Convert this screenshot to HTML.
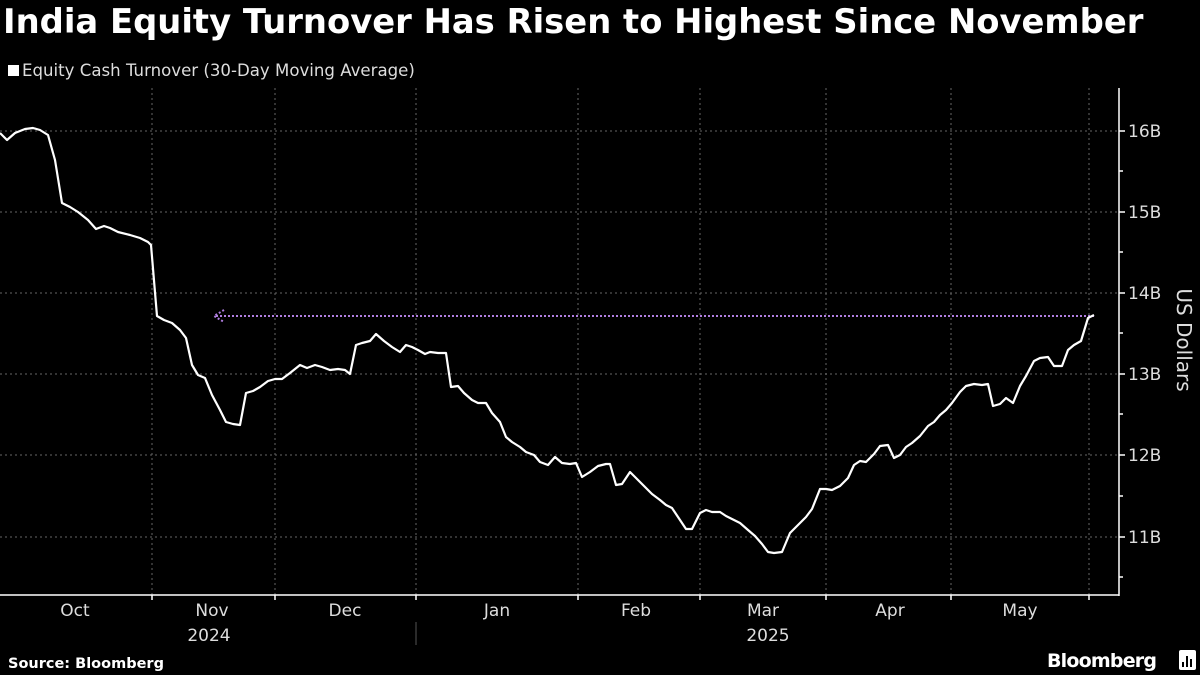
<!DOCTYPE html>
<html><head><meta charset="utf-8"><style>
html,body{margin:0;padding:0;background:#000;}
body{width:1200px;height:675px;overflow:hidden;position:relative;font-family:"DejaVu Sans","Liberation Sans",sans-serif;color:#fff;}
.t{position:absolute;white-space:nowrap;}
</style></head><body>
<div class="t" style="left:3px;top:2px;font-size:33.8px;font-weight:bold;">India Equity Turnover Has Risen to Highest Since November</div>
<div class="t" style="left:8px;top:61px;font-size:16.6px;color:#ddd;"><span style="display:inline-block;width:11px;height:11px;background:#fff;margin-right:3px;"></span>Equity Cash Turnover (30-Day Moving Average)</div>
<svg width="1200" height="675" style="position:absolute;left:0;top:0" font-family="DejaVu Sans, Liberation Sans, sans-serif">
<g stroke="#666" stroke-width="1" stroke-dasharray="2,3">
<line x1="0" x2="1119" y1="131" y2="131"/><line x1="0" x2="1119" y1="212" y2="212"/><line x1="0" x2="1119" y1="293" y2="293"/><line x1="0" x2="1119" y1="374" y2="374"/><line x1="0" x2="1119" y1="455" y2="455"/><line x1="0" x2="1119" y1="537" y2="537"/>
<line x1="152" x2="152" y1="88" y2="595"/><line x1="275" x2="275" y1="88" y2="595"/><line x1="416" x2="416" y1="88" y2="595"/><line x1="578" x2="578" y1="88" y2="595"/><line x1="700" x2="700" y1="88" y2="595"/><line x1="826" x2="826" y1="88" y2="595"/><line x1="951" x2="951" y1="88" y2="595"/><line x1="1089" x2="1089" y1="88" y2="595"/>
</g>
<g stroke="#fff" stroke-width="1.5">
<line x1="1119" x2="1119" y1="88" y2="596"/><line x1="0" x2="1119" y1="595" y2="595"/>
<line x1="1119" x2="1125" y1="131" y2="131"/><line x1="1119" x2="1125" y1="212" y2="212"/><line x1="1119" x2="1125" y1="293" y2="293"/><line x1="1119" x2="1125" y1="374" y2="374"/><line x1="1119" x2="1125" y1="455" y2="455"/><line x1="1119" x2="1125" y1="537" y2="537"/>
<line x1="1119" x2="1123" y1="171" y2="171"/><line x1="1119" x2="1123" y1="252" y2="252"/><line x1="1119" x2="1123" y1="333" y2="333"/><line x1="1119" x2="1123" y1="414" y2="414"/><line x1="1119" x2="1123" y1="496" y2="496"/><line x1="1119" x2="1123" y1="577" y2="577"/>
<line x1="152" x2="152" y1="595" y2="600"/><line x1="275" x2="275" y1="595" y2="600"/><line x1="416" x2="416" y1="595" y2="600"/><line x1="578" x2="578" y1="595" y2="600"/><line x1="700" x2="700" y1="595" y2="600"/><line x1="826" x2="826" y1="595" y2="600"/><line x1="951" x2="951" y1="595" y2="600"/><line x1="1089" x2="1089" y1="595" y2="600"/>
</g>
<line x1="416" x2="416" y1="622" y2="645" stroke="#555"/>
<g fill="#ddd" font-size="17">
<text x="1128" y="137">16B</text><text x="1128" y="218">15B</text><text x="1128" y="299">14B</text><text x="1128" y="380">13B</text><text x="1128" y="461">12B</text><text x="1128" y="543">11B</text>
</g>
<text transform="translate(1177,340) rotate(90)" fill="#ddd" font-size="20" text-anchor="middle">US Dollars</text>
<g fill="#ddd" font-size="17" text-anchor="middle">
<text x="75" y="616">Oct</text><text x="212" y="616">Nov</text><text x="345" y="616">Dec</text><text x="497" y="616">Jan</text><text x="636" y="616">Feb</text><text x="763" y="616">Mar</text><text x="890" y="616">Apr</text><text x="1020" y="616">May</text>
<text x="209" y="641">2024</text><text x="768" y="641">2025</text>
</g>
<line x1="216" x2="1095" y1="316" y2="316" stroke="#b07ee0" stroke-width="2" stroke-dasharray="2,2"/>
<path d="M224,310 L214,316 L224,322" fill="none" stroke="#b07ee0" stroke-width="2" stroke-dasharray="2,2"/>
<polyline fill="none" stroke="#fff" stroke-width="2.2" stroke-linejoin="round" points="0,133 7,140 15,133 25,129 33,128 40,130 48,135 55,160 62,203 70,207 78,212 88,220 96,229 104,226 110,228 118,232 130,235 140,238 148,242 151,245 157,316 164,320 172,323 180,330 186,338 192,365 198,375 205,378 212,395 220,410 226,422 233,424 240,425 246,393 253,391 260,387 268,381 275,379 282,379 290,373 300,365 307,368 315,365 322,367 330,370 338,369 345,370 350,374 356,345 362,343 370,341 376,334 384,341 392,347 400,352 406,345 412,347 418,350 425,354 430,352 438,353 446,353 451,387 458,386 464,393 472,400 478,403 486,403 492,413 500,422 506,437 512,442 520,447 526,452 534,455 540,462 548,465 555,457 562,463 570,464 576,463 582,477 590,472 598,466 606,464 610,464 616,485 622,484 630,472 638,480 645,487 652,494 660,500 666,505 672,508 680,520 686,529 692,529 700,513 706,510 712,512 720,512 726,516 732,519 740,523 748,530 755,536 762,544 768,552 774,553 782,552 790,533 798,525 806,517 812,509 820,489 826,489 832,490 840,486 848,478 854,465 860,461 866,462 874,454 880,446 888,445 894,458 900,455 906,447 912,443 920,436 928,426 934,422 940,415 946,410 952,403 960,392 966,386 974,384 982,385 988,384 993,406 1000,404 1006,398 1013,403 1020,386 1026,376 1034,361 1040,358 1048,357 1054,366 1062,366 1068,350 1074,345 1081,341 1088,318 1094,315"/>
<text x="8" y="668" fill="#fff" font-size="14.5" font-weight="bold">Source: Bloomberg</text>
<text x="1047" y="667" fill="#fff" font-size="19" font-weight="bold" letter-spacing="-0.8">Bloomberg</text>
<rect x="1179" y="650" width="17" height="20" rx="2" fill="#fff"/>
<g stroke="#000" stroke-width="2"><line x1="1183" x2="1183" y1="662" y2="667"/><line x1="1187" x2="1187" y1="656" y2="667"/><line x1="1191" x2="1191" y1="659" y2="667"/></g>
</svg>
</body></html>
